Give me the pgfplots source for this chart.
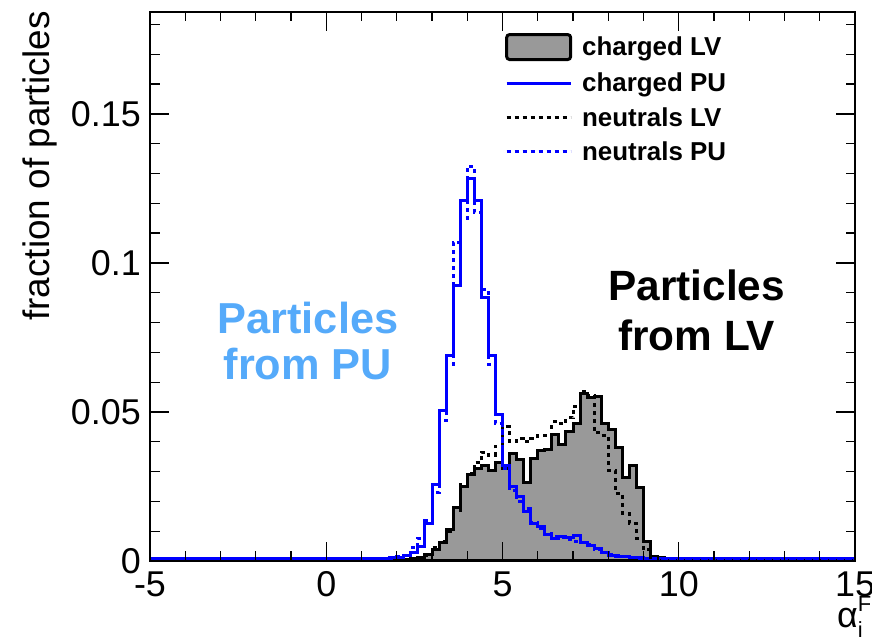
\documentclass[border=0pt]{standalone}
\usepackage{fontspec}
\setmainfont{Liberation Sans}
\usepackage{pgfplots}
\pgfplotsset{compat=1.18}
\definecolor{histgray}{gray}{0.6}
\definecolor{pulabel}{RGB}{85,170,250}
\definecolor{rootblue}{RGB}{0,0,255}

\pgfplotsset{
  wide line legend/.style={legend image code/.code={\draw[##1] (0bp,0bp) -- (64bp,0bp);}},
  wide box legend/.style={legend image code/.code={\draw[##1, rounded corners=3bp] (0bp,-12.5bp) rectangle (64bp,12.5bp);}},
}

\begin{document}
\begin{tikzpicture}
\useasboundingbox (0,0) rectangle (872bp,642bp);
\begin{axis}[
  at={(150bp,81bp)}, anchor=south west,
  scale only axis, width=705bp, height=549bp,
  xmin=-5, xmax=15, ymin=0, ymax=0.1842,
  axis on top,
  axis line style={line width=1.6bp},
  tick align=inside,
  major tick length=19bp, minor tick length=9.5bp,
  tick style={black, line width=1.3bp},
  xtick={-5,0,5,10,15}, xticklabels={-5,0,5,10,15},
  minor xtick={-4,-3,-2,-1,1,2,3,4,6,7,8,9,11,12,13,14},
  ytick={0,0.05,0.1,0.15}, yticklabels={0,0.05,0.1,0.15},
  minor ytick={0.01,0.02,0.03,0.04,0.06,0.07,0.08,0.09,0.11,0.12,0.13,0.14,0.16,0.17,0.18},
  tick label style={font=\fontsize{36}{36}\selectfont},
  xticklabel style={inner sep=0pt, yshift=-10.5bp},
  yticklabel style={inner sep=0pt, xshift=-9bp},
  legend style={at={(axis description cs:0.5035,0.962)}, anchor=north west,
    draw=none, fill=none, inner sep=0pt, row sep=10bp,
    font=\bfseries\fontsize{26}{26}\selectfont,
    /tikz/every odd column/.append style={column sep=8bp}},
  legend cell align=left,
]

% charged particles from the leading vertex
\addplot[const plot, draw=black, line width=3bp, fill=histgray, wide box legend] coordinates {
(-5,0) (2.0,0.0003) (2.2,0.0005) (2.4,0.0008) (2.6,0.0012) (2.8,0.0022) (3.0,0.004)
(3.2,0.0063) (3.4,0.0105) (3.6,0.018) (3.8,0.025) (4.0,0.029) (4.2,0.031) (4.4,0.032)
(4.6,0.0305) (4.8,0.033) (5.0,0.031) (5.2,0.036) (5.4,0.034) (5.6,0.0265) (5.8,0.0345)
(6.0,0.037) (6.2,0.0375) (6.4,0.0425) (6.6,0.039) (6.8,0.0435) (7.0,0.046) (7.2,0.0563)
(7.4,0.0548) (7.6,0.0553) (7.8,0.0462) (8.0,0.044) (8.2,0.038) (8.4,0.028) (8.6,0.032)
(8.8,0.0245) (9.0,0.0065) (9.2,0.0015) (9.4,0.0012) (9.6,0) (15,0)
} \closedcycle;
\addlegendentry{charged LV}

% charged particles from pile-up
\addplot[const plot, draw=rootblue, line width=3bp, wide line legend] coordinates {
(-5,0.0009) (1.6,0.001) (1.8,0.0011) (2.0,0.0013) (2.2,0.0017) (2.4,0.003) (2.6,0.005)
(2.8,0.0125) (3.0,0.0255) (3.2,0.0505) (3.4,0.069) (3.6,0.0925) (3.8,0.121) (4.0,0.1285)
(4.2,0.121) (4.4,0.0885) (4.6,0.069) (4.8,0.049) (5.0,0.032) (5.2,0.025) (5.4,0.0215)
(5.6,0.0165) (5.8,0.0127) (6.0,0.0115) (6.2,0.0088) (6.4,0.0076) (6.6,0.0082) (6.8,0.008)
(7.0,0.0085) (7.2,0.0063) (7.4,0.0053) (7.6,0.0043) (7.8,0.003) (8.0,0.002) (8.2,0.0016)
(8.4,0.0014) (8.6,0.0012) (8.8,0.0011) (9.0,0.001) (9.2,0.001) (9.4,0.0009) (9.6,0.0009)
(15,0.0009)
};
\addlegendentry{charged PU}

% neutral particles from the leading vertex
\addplot[const plot, draw=black, line width=3bp, dash pattern=on 4bp off 4bp, wide line legend] coordinates {
(-5,0) (2.4,0.0005) (2.6,0.001) (2.8,0.002) (3.0,0.0045) (3.2,0.0065) (3.4,0.010)
(3.6,0.017) (3.8,0.0255) (4.0,0.0295) (4.2,0.033) (4.4,0.0365) (4.6,0.0355) (4.8,0.0385)
(5.0,0.045) (5.2,0.040) (5.4,0.041) (5.6,0.040) (5.8,0.041) (6.0,0.042) (6.2,0.0422)
(6.4,0.0467) (6.6,0.046) (6.8,0.048) (7.0,0.052) (7.2,0.057) (7.4,0.0555) (7.6,0.043)
(7.8,0.042) (8.0,0.0305) (8.2,0.0227) (8.4,0.016) (8.6,0.0126) (8.8,0.0075) (9.0,0.0037)
(9.2,0.0012) (9.4,0) (15,0)
};
\addlegendentry{neutrals LV}

% neutral particles from pile-up
\addplot[const plot, draw=rootblue, line width=3bp, dash pattern=on 4bp off 4bp, wide line legend] coordinates {
(-5,0.0008) (1.6,0.0009) (1.8,0.001) (2.0,0.0014) (2.2,0.002) (2.4,0.0044) (2.6,0.0077)
(2.8,0.0135) (3.0,0.023) (3.2,0.047) (3.4,0.066) (3.6,0.107) (3.8,0.115) (4.0,0.1325)
(4.2,0.117) (4.4,0.091) (4.6,0.066) (4.8,0.046) (5.0,0.031) (5.2,0.0235) (5.4,0.020)
(5.6,0.0175) (5.8,0.013) (6.0,0.011) (6.2,0.0092) (6.4,0.0083) (6.6,0.0078) (6.8,0.0072)
(7.0,0.0065) (7.2,0.0062) (7.4,0.0055) (7.6,0.004) (7.8,0.003) (8.0,0.0022) (8.2,0.0017)
(8.4,0.0014) (8.6,0.0012) (8.8,0.001) (9.0,0.0009) (9.2,0.0008) (15,0.0008)
};
\addlegendentry{neutrals PU}

\node[font=\bfseries\fontsize{43.5}{47}\selectfont, align=center, text=pulabel]
  at (axis cs:-0.52,0.0738) {Particles\\from PU};
\node[font=\bfseries\fontsize{42.5}{50}\selectfont, align=center, text=black]
  at (axis cs:10.51,0.0842) {Particles\\from LV};
\end{axis}

\node[rotate=90, anchor=north east, inner sep=0pt, font=\fontsize{37}{37}\selectfont]
  at (23bp,631bp) {fraction of particles};
\node[anchor=base west, inner sep=0pt, font=\fontsize{36}{36}\selectfont]
  at (837bp,15bp) {α\rlap{\raisebox{0.42em}{\fontsize{22}{22}\selectfont F}}\raisebox{-0.28em}{\fontsize{22}{22}\selectfont i}};
\end{tikzpicture}
\end{document}
